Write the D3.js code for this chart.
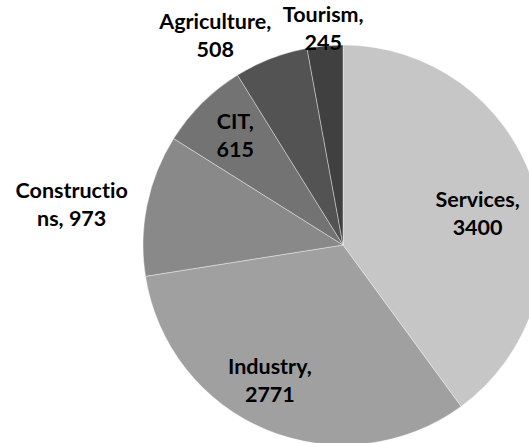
<!DOCTYPE html>
<html>
<head>
<meta charset="utf-8">
<script src="https://cdn.jsdelivr.net/npm/d3@7"></script>
<style>
  body { margin: 0; background: #fff; }
  text { font-family: Lato, "Noto Sans", sans-serif; font-weight: bold; font-size: 21.5px; fill: #000;
         font-variant-ligatures: none; font-feature-settings: "liga" 0; }
</style>
</head>
<body>
<div class="chart"></div>
<script>
  // chart data
  var categories = ['Services', 'Industry', 'Constructions', 'CIT', 'Agriculture', 'Tourism'];
  var values = [3400, 2771, 973, 615, 508, 245];
  var colors = ['#c6c6c6', '#a0a0a0', '#898989', '#737373', '#535353', '#404040'];

  var width = 529;
  var height = 443;

  // pie dimensions
  var cX = 343;
  var cY = 245;
  var radius = 200;

  // label nudges (px) from the default label point, Excel "best fit" style
  var labelNudge = {
    'Services': [-8, 16],
    'Industry': [-16, -3],
    'Constructions': [-46, 6],
    'CIT': [-2, -3],
    'Agriculture': [-45, 6],
    'Tourism': [1, 13]
  };
  var outside = ['Constructions', 'Agriculture', 'Tourism'];
  var lineHeight = 28;
  var maxLabelWidth = 120;

  var svg = d3.select('.chart')
    .append('svg')
    .attr('width', width)
    .attr('height', height);

  var data = categories.map(function(c, i) {
    return { name: c, value: values[i], color: colors[i] };
  });

  var pie = d3.pie()
    .sort(null)
    .value(function(d) { return d.value; });

  var arc = d3.arc()
    .innerRadius(0)
    .outerRadius(radius);

  var inLabelArc = d3.arc()
    .innerRadius(radius * 0.75)
    .outerRadius(radius * 0.75);

  var outLabelArc = d3.arc()
    .innerRadius(radius * 1.15)
    .outerRadius(radius * 1.15);

  var g = svg.append('g')
    .attr('transform', 'translate(' + cX + ',' + cY + ')');

  var arcs = pie(data);

  g.selectAll('path.slice')
    .data(arcs)
    .enter()
    .append('path')
    .attr('class', 'slice')
    .attr('d', arc)
    .attr('fill', function(d) { return d.data.color; })
    .attr('stroke', '#ffffff')
    .attr('stroke-opacity', 0.5)
    .attr('stroke-width', 0.75);

  // split label into lines: "Name," then value, char-wrapping names that are too wide
  function labelLines(d, measure) {
    var first = d.data.name + ',';
    if (measure(first) <= maxLabelWidth) {
      return [first, String(d.data.value)];
    }
    var whole = first + ' ' + d.data.value;
    var cut = whole.length;
    while (cut > 1 && measure(whole.slice(0, cut)) > maxLabelWidth) {
      cut--;
    }
    return [whole.slice(0, cut), whole.slice(cut).trim()];
  }

  var probe = svg.append('text').attr('x', -1000).attr('y', -1000);
  function measure(s) {
    probe.text(s);
    return probe.node().getComputedTextLength();
  }

  arcs.forEach(function(d) {
    var isOut = outside.indexOf(d.data.name) !== -1;
    var p = (isOut ? outLabelArc : inLabelArc).centroid(d);
    var n = labelNudge[d.data.name] || [0, 0];
    var x = p[0] + n[0];
    var y = p[1] + n[1];
    var lines = labelLines(d, measure);

    var t = g.append('text')
      .attr('text-anchor', 'middle')
      .attr('x', x)
      .attr('y', y - 7);

    lines.forEach(function(line, i) {
      t.append('tspan')
        .attr('x', x)
        .attr('dy', i === 0 ? 0 : lineHeight)
        .text(line);
    });
  });

  probe.remove();
</script>
</body>
</html>
